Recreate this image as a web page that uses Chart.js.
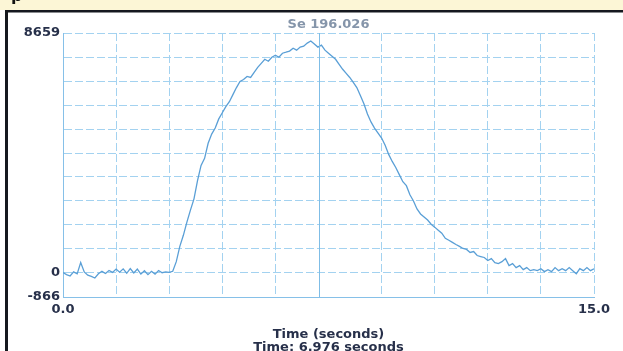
<!DOCTYPE html>
<html>
<head>
<meta charset="utf-8">
<script src="https://cdn.jsdelivr.net/npm/chart.js"></script>
<style>
  html, body { margin: 0; padding: 0; background: #fff; }
  #wrap { width: 623px; height: 351px; position: relative; }
</style>
</head>
<body>
<div id="wrap"><canvas id="chart" width="623" height="351"></canvas></div>
<script>
// sample times (seconds) and signal
const times = [
  0.0, 0.1, 0.2, 0.3, 0.4, 0.5, 0.6, 0.7, 0.8, 0.9,
  1.0, 1.1, 1.2, 1.3, 1.4, 1.5, 1.6, 1.7, 1.8, 1.9,
  2.0, 2.1, 2.2, 2.3, 2.4, 2.5, 2.6, 2.7, 2.8, 2.9,
  3.0, 3.1, 3.2, 3.3, 3.4, 3.5, 3.6, 3.7, 3.8, 3.9,
  4.0, 4.1, 4.2, 4.3, 4.4, 4.5, 4.6, 4.7, 4.8, 4.9,
  5.0, 5.1, 5.2, 5.3, 5.4, 5.5, 5.6, 5.7, 5.8, 5.9,
  6.0, 6.1, 6.2, 6.3, 6.4, 6.5, 6.6, 6.7, 6.8, 6.9,
  7.0, 7.1, 7.2, 7.3, 7.4, 7.5, 7.6, 7.7, 7.8, 7.9,
  8.0, 8.1, 8.2, 8.3, 8.4, 8.5, 8.6, 8.7, 8.8, 8.9,
  9.0, 9.1, 9.2, 9.3, 9.4, 9.5, 9.6, 9.7, 9.8, 9.9,
  10.0, 10.1, 10.2, 10.3, 10.4, 10.5, 10.6, 10.7, 10.8, 10.9,
  11.0, 11.1, 11.2, 11.3, 11.4, 11.5, 11.6, 11.7, 11.8, 11.9,
  12.0, 12.1, 12.2, 12.3, 12.4, 12.5, 12.6, 12.7, 12.8, 12.9,
  13.0, 13.1, 13.2, 13.3, 13.4, 13.5, 13.6, 13.7, 13.8, 13.9,
  14.0, 14.1, 14.2, 14.3, 14.4, 14.5, 14.6, 14.7, 14.8, 14.9,
  15.0
];
const signal = [
  20, -60, -110, 40, -30, 380, 40, -80, -120, -180,
  -30, 60, -20, 90, 20, 140, 30, 150, -10, 160,
  0, 140, -40, 80, -60, 60, -40, 90, 10, 40,
  20, 60, 410, 960, 1360, 1835, 2270, 2675, 3330, 3880,
  4135, 4680, 5010, 5230, 5560, 5780, 6000, 6180, 6435, 6690,
  6910, 6980, 7090, 7055, 7240, 7420, 7565, 7710, 7640, 7785,
  7860, 7785, 7930, 7965, 8005, 8110, 8040, 8150, 8185, 8295,
  8370, 8260, 8150, 8220, 8040, 7930, 7820, 7710, 7530, 7350,
  7200, 7055, 6875, 6690, 6400, 6105, 5740, 5450, 5230, 5050,
  4870, 4610, 4280, 4025, 3805, 3550, 3295, 3150, 2820, 2600,
  2310, 2130, 2020, 1910, 1760, 1655, 1545, 1435, 1250, 1180,
  1105, 1030, 960, 885, 850, 740, 775, 630, 595, 560,
  450, 520, 375, 340, 410, 520, 265, 340, 195, 265,
  120, 195, 85, 120, 85, 155, 50, 120, 50, 195,
  85, 155, 85, 195, 85, -25, 155, 85, 195, 85,
  155
];
const yMin = -866;
const yMax = 8659;
const yLabels = ["8659", "0", "-866"];
const xLabels = ["0.0", "15.0"];
const cursorTime = 7.23;
const chartTitle = "Se 196.026";
const xTitle = ["Time (seconds)", "Time: 6.976 seconds"];

const GRID = "#a3d2f0";
const INK = "#27304a";
const FONT = "'DejaVu Sans', Verdana, sans-serif";

// frame of the window around the plot
const frame = {
  id: "frame",
  beforeDraw(chart) {
    const c = chart.ctx;
    c.save();
    c.fillStyle = "#fff";
    c.fillRect(0, 0, chart.width, chart.height);
    c.fillStyle = "#fcf6d6";
    c.fillRect(0, 0, chart.width, 10);
    c.fillStyle = "#111";
    c.font = "bold 16px " + FONT;
    c.textBaseline = "alphabetic";
    c.fillText("p", 11, 1);
    c.fillStyle = "#15181f";
    c.fillRect(5, 10, chart.width - 5, 2.5);
    c.fillRect(5, 10, 3, chart.height - 10);
    c.restore();
  }
};

const cursor = {
  id: "cursor",
  afterDatasetsDraw(chart) {
    const {ctx, chartArea, scales} = chart;
    const x = Math.round(scales.x.getPixelForValue(cursorTime)) + 0.5;
    ctx.save();
    ctx.strokeStyle = "#7fbde6";
    ctx.lineWidth = 1;
    ctx.beginPath();
    ctx.moveTo(x, chartArea.top);
    ctx.lineTo(x, chartArea.bottom);
    ctx.stroke();
    ctx.restore();
  }
};

const step = (yMax - yMin) / 11;

new Chart(document.getElementById("chart"), {
  type: "line",
  data: {
    datasets: [{
      data: times.map((t, i) => ({x: t, y: signal[i]})),
      borderColor: "#5a9fd6",
      borderWidth: 1.3,
      pointRadius: 0,
      tension: 0,
      fill: false
    }]
  },
  options: {
    responsive: false,
    animation: false,
    layout: { padding: { left: 0, right: 29, top: 0, bottom: 0 } },
    plugins: {
      legend: { display: false },
      tooltip: { enabled: false },
      title: {
        display: true,
        text: chartTitle,
        fullSize: false,
        color: "#8595aa",
        font: { family: FONT, size: 13, weight: "bold", lineHeight: 1 },
        padding: { top: 18, bottom: 2 }
      }
    },
    scales: {
      x: {
        type: "linear",
        min: 0,
        max: 15,
        afterFit: s => { s.height = 54; },
        afterBuildTicks: s => {
          s.ticks = [];
          for (let k = 0; k <= 10; k++) s.ticks.push({value: k * 1.5});
        },
        ticks: {
          autoSkip: false,
          maxRotation: 0,
          padding: 5,
          color: INK,
          font: { family: FONT, size: 13, weight: "bold" },
          callback: v => v === 0 ? xLabels[0] : (v === 15 ? xLabels[1] : "")
        },
        grid: {
          drawTicks: false,
          color: ctx => (ctx.tick && ctx.tick.value === 7.5) ? "rgba(0,0,0,0)" : GRID,
          lineWidth: 1
        },
        border: { display: true, color: "#86c0e8", dash: [8, 3] },
        title: {
          display: true,
          text: xTitle,
          color: INK,
          font: { family: FONT, size: 13, weight: "bold", lineHeight: 1 },
          padding: { top: 0, bottom: -3.5 }
        }
      },
      y: {
        min: yMin,
        max: yMax,
        afterFit: s => { s.width = 63; },
        afterBuildTicks: s => {
          s.ticks = [];
          for (let k = 0; k <= 11; k++) s.ticks.push({value: Math.round(yMin + k * step)});
        },
        ticks: {
          autoSkip: false,
          padding: 3,
          color: INK,
          font: { family: FONT, size: 13, weight: "bold" },
          callback: (v, i) => i === 11 ? yLabels[0] : (i === 1 ? yLabels[1] : (i === 0 ? yLabels[2] : ""))
        },
        grid: { drawTicks: false, color: GRID, lineWidth: 1 },
        border: { display: true, color: "#86c0e8", dash: [8, 3] }
      }
    }
  },
  plugins: [frame, cursor]
});
</script>
</body>
</html>
